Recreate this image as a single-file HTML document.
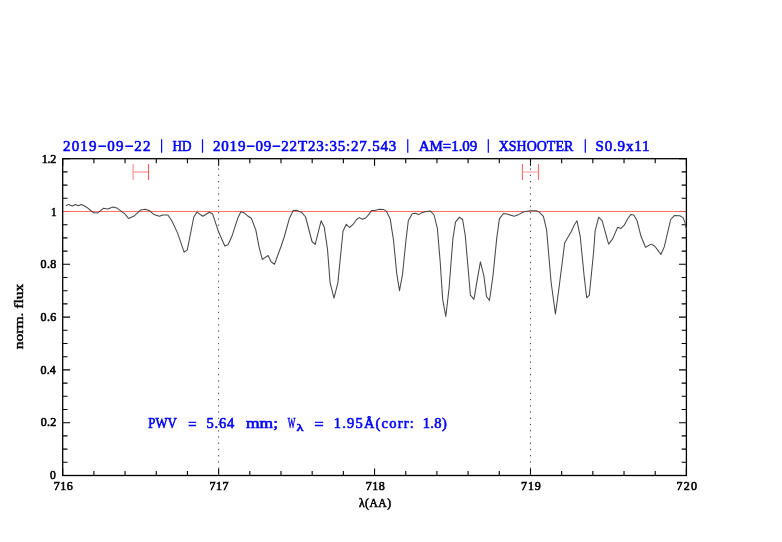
<!DOCTYPE html>
<html><head><meta charset="utf-8"><style>
html,body{margin:0;padding:0;background:#fff;}
svg{display:block;will-change:transform;}
text{font-family:"Liberation Serif",serif;}
</style></head><body>
<svg width="782" height="542" viewBox="0 0 782 542">
<rect width="782" height="542" fill="#fff"/>
<path d="M62.70,475.50V468.50M62.70,158.70V165.70M93.89,475.50V470.90M93.89,158.70V163.30M125.07,475.50V470.90M125.07,158.70V163.30M156.26,475.50V470.90M156.26,158.70V163.30M187.44,475.50V470.90M187.44,158.70V163.30M218.62,475.50V468.50M218.62,158.70V165.70M249.81,475.50V470.90M249.81,158.70V163.30M280.99,475.50V470.90M280.99,158.70V163.30M312.18,475.50V470.90M312.18,158.70V163.30M343.36,475.50V470.90M343.36,158.70V163.30M374.55,475.50V468.50M374.55,158.70V165.70M405.74,475.50V470.90M405.74,158.70V163.30M436.92,475.50V470.90M436.92,158.70V163.30M468.11,475.50V470.90M468.11,158.70V163.30M499.29,475.50V470.90M499.29,158.70V163.30M530.48,475.50V468.50M530.48,158.70V165.70M561.66,475.50V470.90M561.66,158.70V163.30M592.84,475.50V470.90M592.84,158.70V163.30M624.03,475.50V470.90M624.03,158.70V163.30M655.21,475.50V470.90M655.21,158.70V163.30M686.40,475.50V468.50M686.40,158.70V165.70M62.70,475.50H70.10M686.40,475.50H679.00M62.70,462.30H67.50M686.40,462.30H681.60M62.70,449.10H67.50M686.40,449.10H681.60M62.70,435.90H67.50M686.40,435.90H681.60M62.70,422.70H70.10M686.40,422.70H679.00M62.70,409.50H67.50M686.40,409.50H681.60M62.70,396.30H67.50M686.40,396.30H681.60M62.70,383.10H67.50M686.40,383.10H681.60M62.70,369.90H70.10M686.40,369.90H679.00M62.70,356.70H67.50M686.40,356.70H681.60M62.70,343.50H67.50M686.40,343.50H681.60M62.70,330.30H67.50M686.40,330.30H681.60M62.70,317.10H70.10M686.40,317.10H679.00M62.70,303.90H67.50M686.40,303.90H681.60M62.70,290.70H67.50M686.40,290.70H681.60M62.70,277.50H67.50M686.40,277.50H681.60M62.70,264.30H70.10M686.40,264.30H679.00M62.70,251.10H67.50M686.40,251.10H681.60M62.70,237.90H67.50M686.40,237.90H681.60M62.70,224.70H67.50M686.40,224.70H681.60M62.70,211.50H70.10M686.40,211.50H679.00M62.70,198.30H67.50M686.40,198.30H681.60M62.70,185.10H67.50M686.40,185.10H681.60M62.70,171.90H67.50M686.40,171.90H681.60M62.70,158.70H70.10M686.40,158.70H679.00" stroke="#000" stroke-width="1.1" fill="none"/>
<rect x="62.70" y="158.70" width="623.70" height="316.80" fill="none" stroke="#000" stroke-width="1.3"/>
<g stroke-width="1.1" fill="none">
<path d="M133.1,164V180M133.1,172H148.5" stroke="#ffa8a8" stroke-width="1.5"/>
<path d="M148.5,164V180" stroke="#ff6060"/>
<path d="M522.4,172H538.5" stroke="#ffb0b0" stroke-width="1.3"/>
<path d="M522.4,164V180M538.5,164V180" stroke="#ff6a6a"/>
</g>
<path d="M218.62,158.70V475.50M530.48,158.70V475.50" stroke="#444" stroke-width="1" stroke-dasharray="1.3,4.93" stroke-dashoffset="2.7" fill="none"/>
<path d="M63.40,211.5H685.70" stroke="#ff6060" stroke-width="1" fill="none" opacity="0.9"/>
<polyline points="65.9,205.8 68.7,204.4 72.3,205.9 75.4,204.5 78.5,205.7 81.3,204.6 83.1,205.2 86.6,207.2 90.7,210.5 93.8,212.8 97.5,213.1 103.3,208.3 107.8,209.0 113.0,207.0 116.8,207.9 122.0,211.8 125.2,214.1 128.5,218.5 134.3,215.9 140.7,209.9 145.3,209.2 149.8,210.8 153.7,214.4 159.5,216.3 162.8,215.0 167.9,215.0 171.8,220.8 177.6,233.1 184.1,252.1 187.3,249.9 193.8,217.0 197.0,212.1 202.8,216.3 209.3,212.2 212.5,213.7 218.3,231.2 224.8,246.0 228.0,244.7 231.9,236.3 237.7,218.3 240.9,211.8 243.5,212.4 247.4,215.7 251.3,218.3 255.8,229.9 259.0,246.7 262.3,259.4 268.1,255.5 271.3,262.0 274.5,264.3 281.0,246.5 284.2,237.0 289.4,218.3 293.3,210.5 296.5,210.2 301.7,212.4 305.6,217.0 312.0,241.5 315.2,244.4 321.1,220.8 324.3,227.3 327.5,249.3 330.1,282.6 334.0,298.1 337.9,282.6 343.0,231.2 346.3,224.3 349.5,227.5 352.8,224.7 356.6,219.5 359.2,217.6 362.4,219.3 365.7,218.0 368.9,214.4 371.5,210.5 374.7,210.5 379.2,209.2 383.8,209.6 386.3,211.1 390.2,218.9 393.5,240.2 396.7,273.3 399.5,290.7 402.5,274.5 405.7,242.8 408.3,220.8 412.2,213.7 415.4,213.3 418.6,214.6 422.5,212.4 426.4,211.4 430.3,210.9 434.1,215.0 437.4,228.6 440.2,262.0 442.7,299.6 445.8,316.5 449.0,288.8 452.9,238.9 455.5,222.1 459.4,217.2 462.6,219.5 465.2,235.1 467.8,264.8 470.4,295.2 473.9,299.4 477.5,278.4 480.4,261.9 483.9,275.8 486.5,296.5 489.5,300.4 493.0,275.8 496.8,237.6 499.4,218.9 503.3,213.5 507.2,214.1 514.3,216.3 518.8,214.4 524.0,211.8 530.4,210.8 536.3,210.8 538.9,211.8 543.4,216.3 546.6,229.9 551.1,282.3 555.4,314.0 558.9,288.8 564.7,242.8 571.2,231.8 574.4,224.7 577.0,220.8 580.2,236.3 584.1,275.8 586.7,297.8 589.3,295.2 593.8,250.0 595.1,231.2 598.7,217.2 602.2,220.8 608.6,244.1 612.6,238.9 617.7,227.3 620.9,228.4 624.1,225.4 628.0,218.3 631.0,214.4 633.8,215.0 637.1,220.8 641.0,236.3 645.5,247.3 651.3,244.1 654.6,246.0 661.0,254.4 664.3,246.7 670.7,219.5 674.6,215.4 679.8,215.7 683.0,217.6 684.9,222.1 686.5,229.9" fill="none" stroke="#484848" stroke-width="1.05" stroke-linejoin="round"/>
<g font-family='"Liberation Serif",serif' font-weight="normal"><text x="63.00" y="150.75" font-size="15" fill="#0000ff" stroke="#0000ff" stroke-width="0.6" textLength="87.50" lengthAdjust="spacing">2019−09−22</text><text x="172.50" y="150.75" font-size="15" fill="#0000ff" stroke="#0000ff" stroke-width="0.6" textLength="19.00" lengthAdjust="spacingAndGlyphs">HD</text><text x="213.00" y="150.75" font-size="15" fill="#0000ff" stroke="#0000ff" stroke-width="0.6" textLength="183.25" lengthAdjust="spacing">2019−09−22T23:35:27.543</text><text x="418.75" y="150.75" font-size="15" fill="#0000ff" stroke="#0000ff" stroke-width="0.6" textLength="58.50" lengthAdjust="spacing">AM=1.09</text><text x="498.75" y="150.75" font-size="15" fill="#0000ff" stroke="#0000ff" stroke-width="0.6" textLength="74.50" lengthAdjust="spacingAndGlyphs">XSHOOTER</text><text x="595.50" y="150.75" font-size="15" fill="#0000ff" stroke="#0000ff" stroke-width="0.6" textLength="54.00" lengthAdjust="spacing">S0.9x11</text><text x="148.25" y="428.00" font-size="14.5" fill="#0000ff" stroke="#0000ff" stroke-width="0.6" textLength="28.50" lengthAdjust="spacingAndGlyphs">PWV</text><text x="188.25" y="428.80" font-size="14.5" fill="#0000ff" stroke="#0000ff" stroke-width="0.6" textLength="8.29" lengthAdjust="spacingAndGlyphs">=</text><text x="206.50" y="428.00" font-size="14.5" fill="#0000ff" stroke="#0000ff" stroke-width="0.6" textLength="27.75" lengthAdjust="spacing">5.64</text><text x="246.00" y="428.00" font-size="14.5" fill="#0000ff" stroke="#0000ff" stroke-width="0.6" textLength="32.02" lengthAdjust="spacingAndGlyphs">mm;</text><text x="287.75" y="428.00" font-size="14.5" fill="#0000ff" stroke="#0000ff" stroke-width="0.6" textLength="7.57" lengthAdjust="spacingAndGlyphs">W</text><text x="296.50" y="431.00" font-size="11" fill="#0000ff" stroke="#0000ff" stroke-width="0.6" textLength="7.05" lengthAdjust="spacingAndGlyphs">λ</text><text x="314.50" y="428.80" font-size="14.5" fill="#0000ff" stroke="#0000ff" stroke-width="0.6" textLength="9.06" lengthAdjust="spacingAndGlyphs">=</text><text x="333.75" y="428.00" font-size="14.5" fill="#0000ff" stroke="#0000ff" stroke-width="0.6" textLength="80.00" lengthAdjust="spacing">1.95Å(corr:</text><text x="422.75" y="428.00" font-size="14.5" fill="#0000ff" stroke="#0000ff" stroke-width="0.6" textLength="24.00" lengthAdjust="spacing">1.8)</text><text x="41.75" y="162.50" font-size="12" fill="#000" stroke="#000" stroke-width="0.6" textLength="14.50" lengthAdjust="spacing">1.2</text><text x="51.00" y="215.50" font-size="12" fill="#000" stroke="#000" stroke-width="0.6" textLength="5.59" lengthAdjust="spacingAndGlyphs">1</text><text x="40.50" y="268.00" font-size="12" fill="#000" stroke="#000" stroke-width="0.6" textLength="15.75" lengthAdjust="spacing">0.8</text><text x="40.50" y="320.75" font-size="12" fill="#000" stroke="#000" stroke-width="0.6" textLength="15.75" lengthAdjust="spacing">0.6</text><text x="40.50" y="373.50" font-size="12" fill="#000" stroke="#000" stroke-width="0.6" textLength="15.25" lengthAdjust="spacing">0.4</text><text x="40.75" y="426.25" font-size="12" fill="#000" stroke="#000" stroke-width="0.6" textLength="15.50" lengthAdjust="spacing">0.2</text><text x="50.00" y="478.50" font-size="12" fill="#000" stroke="#000" stroke-width="0.6" textLength="5.76" lengthAdjust="spacingAndGlyphs">0</text><text x="53.75" y="490.00" font-size="12" fill="#000" stroke="#000" stroke-width="0.6" textLength="19.00" lengthAdjust="spacing">716</text><text x="209.50" y="490.00" font-size="12" fill="#000" stroke="#000" stroke-width="0.6" textLength="19.00" lengthAdjust="spacing">717</text><text x="365.75" y="490.00" font-size="12" fill="#000" stroke="#000" stroke-width="0.6" textLength="19.00" lengthAdjust="spacing">718</text><text x="521.00" y="490.00" font-size="12" fill="#000" stroke="#000" stroke-width="0.6" textLength="19.75" lengthAdjust="spacing">719</text><text x="676.50" y="490.00" font-size="12" fill="#000" stroke="#000" stroke-width="0.6" textLength="20.50" lengthAdjust="spacing">720</text><text x="359.00" y="506.75" font-size="11.5" fill="#000" stroke="#000" stroke-width="0.6" textLength="32.00" lengthAdjust="spacing">λ(AA)</text><text transform="translate(23.00,349.25) rotate(-90)" x="0" y="0" font-size="11.5" fill="#000" stroke="#000" stroke-width="0.4" textLength="65.50" lengthAdjust="spacingAndGlyphs">norm. flux</text></g>
<path d="M161.6,139.2V152.8M202.5,139.2V152.8M407.75,139.2V152.8M488.3,139.2V152.8M585.3,139.2V152.8" stroke="#0000ff" stroke-width="1.2" fill="none"/>
</svg>
</body></html>
